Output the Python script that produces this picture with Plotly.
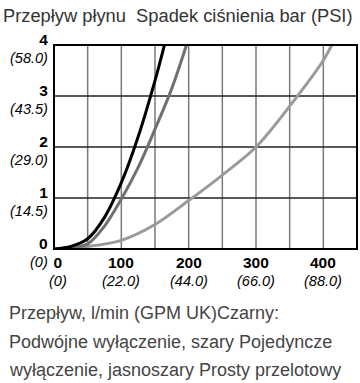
import plotly.graph_objects as go

# Flow (l/min) and pressure drop (bar)
black_flow = [0, 25, 50, 75, 100, 125, 150, 165]
black_bar = [0, 0.05, 0.2, 0.62, 1.3, 2.2, 3.3, 4.05]

gray_flow = [0, 25, 50, 75, 100, 125, 150, 175, 198]
gray_bar = [0, 0.02, 0.1, 0.45, 0.98, 1.6, 2.35, 3.15, 4.05]

light_flow = [0, 50, 100, 150, 200, 250, 300, 350, 400, 420]
light_bar = [0, 0.05, 0.17, 0.48, 0.95, 1.45, 2.0, 2.8, 3.7, 4.2]

x_ticks = [0, 100, 200, 300, 400]
x_gpm = ["(0)", "(22.0)", "(44.0)", "(66.0)", "(88.0)"]
y_ticks = [0, 1, 2, 3, 4]
y_psi = ["(0)", "(14.5)", "(29.0)", "(43.5)", "(58.0)"]

title_text = "Przepływ płynu  Spadek ciśnienia bar (PSI)"
caption_lines = ["Przepływ, l/min (GPM UK)Czarny:",
                 "Podwójne wyłączenie, szary Pojedyncze",
                 "wyłączenie, jasnoszary Prosty przelotowy"]

FONT = "Liberation Sans, Arial, sans-serif"
L, R, T, B = 54, 3, 45, 134
W, H = 360, 383
PW, PH = W - L - R, H - T - B

fig = go.Figure()
for xs, ys, col in [(light_flow, light_bar, "#9a9a9a"),
                    (gray_flow, gray_bar, "#707070"),
                    (black_flow, black_bar, "#000000")]:
    fig.add_trace(go.Scatter(x=xs, y=ys, mode="lines",
                             line=dict(color=col, width=3, shape="spline", smoothing=0.9),
                             showlegend=False, hoverinfo="skip"))

shapes = []
for v in range(50, 450, 50):
    shapes.append(dict(type="line", xref="x", yref="paper", x0=v, x1=v, y0=0, y1=1,
                       line=dict(color="#7a7a7a", width=1.5), layer="below"))
for v in [1, 2, 3]:
    shapes.append(dict(type="line", xref="paper", yref="y", x0=0, x1=1, y0=v, y1=v,
                       line=dict(color="#222", width=1.5), layer="below"))
shapes.append(dict(type="rect", xref="paper", yref="paper", x0=0, x1=1, y0=0, y1=1,
                   line=dict(color="#000", width=2)))


def two_line(num, sub):
    return (f"<span style='font-size:15.5px'><b>{num}</b></span><br>"
            f"<span style='font-size:14.5px'><i>{sub}</i></span>")


ann = []
base_font = dict(size=13.5, color="#000", family=FONT)
for t, g in zip(x_ticks, x_gpm):
    ann.append(dict(text=two_line(t, g), xref="x", yref="paper", x=t, y=0,
                    xanchor="center", yanchor="middle", align="center",
                    yshift=-22, xshift=4 if t == 0 else 0, showarrow=False, font=base_font))
for t, p in zip(y_ticks, y_psi):
    ann.append(dict(text=two_line(t, p), xref="paper", yref="y", x=0, y=t,
                    xanchor="right", yanchor="middle", align="right",
                    xshift=-4, yshift=-3.5, showarrow=False, font=base_font))

ann.append(dict(text=title_text, xref="paper", yref="paper",
                x=-(L - 1) / PW, y=1 + (T - 15) / PH, xanchor="left", yanchor="middle",
                showarrow=False, font=dict(size=18.3, color="#333", family=FONT)))
for i, line in enumerate(caption_lines):
    yc = 313 + i * 28.5
    ann.append(dict(text=line, xref="paper", yref="paper",
                    x=-(L - 7) / PW, y=-(yc - (T + PH)) / PH, xanchor="left", yanchor="middle",
                    showarrow=False, font=dict(size=18, color="#444", family=FONT)))

fig.update_layout(
    width=W, height=H,
    margin=dict(l=L, r=R, t=T, b=B),
    paper_bgcolor="white", plot_bgcolor="white",
    font=dict(family=FONT, color="#000", size=14),
    shapes=shapes,
    annotations=ann,
    xaxis=dict(range=[0, 450], showgrid=False, zeroline=False, showticklabels=False,
               ticks="", tickvals=x_ticks),
    yaxis=dict(range=[0, 4], showgrid=False, zeroline=False, showticklabels=False,
               ticks="", tickvals=y_ticks),
)

fig.write_html("out.html")
